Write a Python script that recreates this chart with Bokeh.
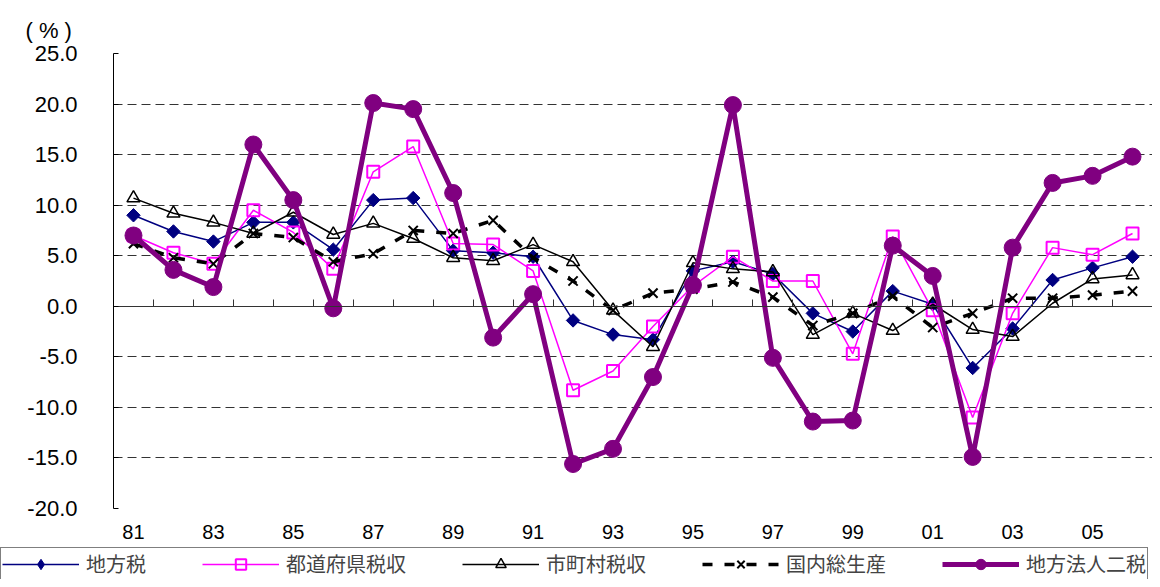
import math
from bokeh.plotting import figure
from bokeh.layouts import column
from bokeh.models import (Range1d, LinearAxis, FixedTicker, NumeralTickFormatter,
                          Legend, LegendItem, Title)
from bokeh.embed import file_html
from bokeh.resources import INLINE

years = ["81", "82", "83", "84", "85", "86", "87", "88", "89", "90", "91", "92", "93",
         "94", "95", "96", "97", "98", "99", "00", "01", "02", "03", "04", "05", "06"]

chihouzei = [9.0, 7.4, 6.4, 8.3, 8.3, 5.6, 10.5, 10.7, 5.5, 5.3, 4.9, -1.4, -2.8,
             -3.3, 3.5, 4.4, 3.2, -0.7, -2.5, 1.5, 0.2, -6.1, -2.2, 2.6, 3.8, 4.9]
todoufuken = [7.0, 5.3, 4.2, 9.5, 7.3, 3.7, 13.3, 15.8, 6.2, 6.1, 3.5, -8.3, -6.4,
              -2.0, 2.0, 4.9, 2.5, 2.5, -4.7, 6.9, -0.4, -11.0, -0.7, 5.8, 5.1, 7.2]
shichouson = [10.7, 9.2, 8.3, 7.2, 9.3, 7.1, 8.2, 6.7, 4.8, 4.5, 6.1, 4.4, -0.4,
              -4.0, 4.3, 3.7, 3.4, -2.8, -0.7, -2.4, 0.2, -2.3, -3.0, 0.3, 2.7, 3.1]
gdp = [6.2, 4.8, 4.2, 7.2, 6.8, 4.4, 5.2, 7.5, 7.2, 8.5, 4.8, 2.5, -0.4,
       1.3, 1.7, 2.4, 0.9, -1.9, -0.7, 1.0, -2.1, -0.7, 0.8, 0.8, 1.1, 1.5]
houjin2 = [7.0, 3.6, 1.9, 16.0, 10.5, -0.2, 20.1, 19.5, 11.2, -3.1, 1.2, -15.6, -14.1,
           -7.0, 2.1, 19.9, -5.1, -11.4, -11.3, 6.0, 3.0, -14.9, 5.8, 12.2, 12.9, 14.8]

y_ticks = [-20, -15, -10, -5, 0, 5, 10, 15, 20, 25]
series_names = ["地方税", "都道府県税収", "市町村税収", "国内総生産", "地方法人二税"]
unit_text = "( % )"

x = list(range(len(years)))

# series styles: (line kwargs, marker kwargs)
styles = [
    (dict(line_color="#000080", line_width=1.5),
     dict(marker="square", angle=math.pi / 4, size=9.5, fill_color="#000080",
          line_color="#000080")),
    (dict(line_color="#FF00FF", line_width=1.5),
     dict(marker="square", size=12, fill_alpha=0, line_color="#FF00FF", line_width=2)),
    (dict(line_color="black", line_width=1.5),
     dict(marker="triangle", size=13, fill_alpha=0, line_color="black", line_width=1.5)),
    (dict(line_color="black", line_width=3.5, line_dash="10 12"),
     dict(marker="x", size=13, line_color="black", line_width=2)),
    (dict(line_color="#800080", line_width=5),
     dict(marker="circle", size=17, fill_color="#800080", line_color="#800080")),
]
legend_markers = ["diamond", "square", "triangle", "x", "circle"]
values = [chihouzei, todoufuken, shichouson, gdp, houjin2]

p = figure(width=1152, height=547, output_backend="svg", toolbar_location=None,
           x_range=Range1d(-0.5, len(years) - 0.5), y_range=Range1d(-20, 25),
           x_axis_location=None, min_border_left=113, min_border_right=0,
           min_border_top=53, min_border_bottom=39)
p.outline_line_color = None
p.background_fill_color = "white"
p.border_fill_color = "white"
p.frame_align = False

# unit label
t = Title(text=unit_text, align="left", offset=-88, standoff=22,
          text_font="Liberation Sans", text_font_size="22px",
          text_font_style="normal", text_color="black")
p.add_layout(t, "above")

# grid
p.xgrid.visible = False
p.ygrid.ticker = FixedTicker(ticks=[v for v in y_ticks if v != 0])
p.ygrid.grid_line_color = "#333333"
p.ygrid.grid_line_dash = "9 5"
p.ygrid.grid_line_width = 1

# y axis
ya = p.yaxis[0]
ya.ticker = FixedTicker(ticks=y_ticks)
ya.formatter = NumeralTickFormatter(format="0.0")
ya.major_label_text_font = "Liberation Sans"
ya.major_label_text_font_size = "22px"
ya.major_label_text_color = "black"
ya.major_label_standoff = 36
ya.major_tick_in = 5
ya.major_tick_out = 0
ya.minor_tick_line_color = None
ya.axis_line_color = "black"
ya.major_tick_line_color = "black"

# zero line axis with category boundary ticks
zero_axis = LinearAxis(fixed_location=0,
                       ticker=FixedTicker(ticks=[i + 0.5 for i in x[:-1]]))
zero_axis.major_tick_in = 7
zero_axis.major_tick_out = 0
zero_axis.minor_tick_line_color = None
zero_axis.axis_line_color = "#333333"
zero_axis.major_tick_line_color = "#333333"
zero_axis.major_label_text_font_size = "1px"
zero_axis.major_label_text_alpha = 0
zero_axis.major_label_standoff = 0
p.add_layout(zero_axis, "below")

# category label axis
lab_axis = LinearAxis(ticker=FixedTicker(ticks=x[::2]),
                      major_label_overrides={i: years[i] for i in x[::2]})
lab_axis.axis_line_color = None
lab_axis.major_tick_line_color = None
lab_axis.minor_tick_line_color = None
lab_axis.major_label_text_font = "Liberation Sans"
lab_axis.major_label_text_font_size = "20px"
lab_axis.major_label_text_color = "black"
lab_axis.major_label_standoff = 10
p.add_layout(lab_axis, "below")

for vals, (lk, mk) in zip(values, styles):
    p.line(x, vals, **lk)
    p.scatter(x, vals, **mk)

# legend strip (separate figure so the legend can span the full width)
lf = figure(width=1152, height=32, output_backend="svg", toolbar_location=None,
            x_range=Range1d(-0.5, len(years) - 0.5), y_range=Range1d(-20, 25),
            x_axis_location=None, y_axis_location=None,
            min_border_left=0, min_border_right=0, min_border_top=0, min_border_bottom=0)
lf.outline_line_color = None
lf.xgrid.visible = False
lf.ygrid.visible = False
lf.frame_align = False
items = []
for name, vals, (lk, mk), lm in zip(series_names, values, styles, legend_markers):
    rl = lf.line(x, vals, visible=False, **lk)
    mk2 = dict(mk)
    mk2.pop("angle", None)
    mk2["marker"] = lm
    rm = lf.scatter(x, vals, visible=False, **mk2)
    items.append(LegendItem(label=name, renderers=[rl, rm]))
legend = Legend(items=items, orientation="horizontal", location="top_left",
                glyph_width=77, glyph_height=26, label_standoff=7, spacing=56,
                padding=1, margin=0, border_line_color="black", border_line_width=1,
                background_fill_color="white", background_fill_alpha=1,
                label_text_font="Noto Sans CJK JP", label_text_font_size="20px",
                label_height=20, label_text_baseline="middle")
lf.add_layout(legend, "center")

layout = column(p, lf, spacing=0)
open("out.html", "w").write(file_html(layout, INLINE))
